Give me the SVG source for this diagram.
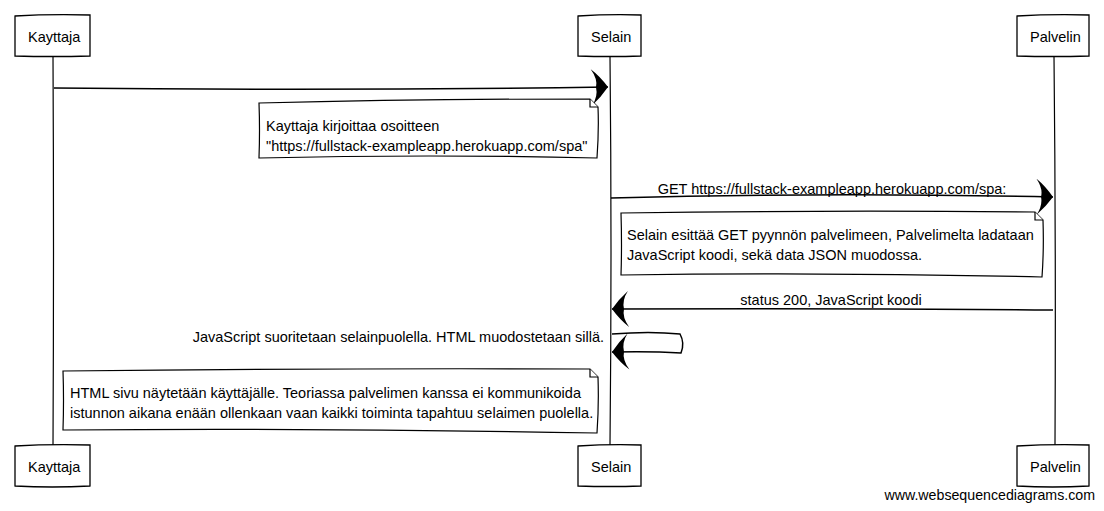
<svg xmlns="http://www.w3.org/2000/svg" width="1104" height="511" viewBox="0 0 1104 511">
<style>
text{font-family:"Liberation Sans",Arial,sans-serif;font-size:14.5px;fill:#000}
.box{fill:#fff;stroke:#000;stroke-width:1.3}
.life{fill:none;stroke:#000;stroke-width:1.2}
.msg{fill:none;stroke:#000;stroke-width:1.5}
.note{fill:#fff;stroke:#000;stroke-width:1.2}
.wm{font-size:14.2px}
</style>
<defs>
<marker id="ah" markerWidth="20" markerHeight="37" refX="18" refY="18" orient="auto" markerUnits="userSpaceOnUse" viewBox="0 0 20 37">
<path d="M18,18 Q10,7 1,0 Q8,10 6,18 Q8,27 2,36 Q11,28 18,18 Z" fill="#000"/>
</marker>
</defs>
<rect width="1104" height="511" fill="#fff"/>
<g id="lifelines">
<path class="life" d="M53,56 Q54,250 53,446"/>
<path class="life" d="M610,56 Q612,250 610,446"/>
<path class="life" d="M1054,56 Q1056,250 1055,446"/>
</g>
<g id="kayttaja-top"><path class="box" d="M15,16 Q50,14 90,15 L90,56 Q52,57 15,56 Z"/><text x="28" y="42">Kayttaja</text></g>
<g id="selain-top"><path class="box" d="M578,16 Q610,14 641,15 L641,56 Q610,57 578,56 Z"/><text x="591" y="42">Selain</text></g>
<g id="palvelin-top"><path class="box" d="M1017,16 Q1052,14 1089,15 L1089,56 Q1052,57 1017,56 Z"/><text x="1030" y="42">Palvelin</text></g>
<g id="kayttaja-bottom"><path class="box" d="M15,446 Q50,444 90,445 L90,486 Q52,488 15,486 Z"/><text x="28" y="472">Kayttaja</text></g>
<g id="selain-bottom"><path class="box" d="M578,446 Q610,444 641,445 L641,486 Q610,487 578,486 Z"/><text x="591" y="472">Selain</text></g>
<g id="palvelin-bottom"><path class="box" d="M1017,446 Q1052,444 1089,445 L1089,486 Q1052,488 1017,486 Z"/><text x="1030" y="472">Palvelin</text></g>
<g id="connectors">
<path class="msg" d="M54,88 Q330,91 608,87" marker-end="url(#ah)"/>
<path class="msg" d="M611,198 Q830,192 1053,197" marker-end="url(#ah)"/>
<path class="msg" d="M1053,310 Q830,308 612,309" marker-end="url(#ah)"/>
<path class="msg" d="M612,334 Q650,331 680,334 Q685,343 681,353 Q650,351 612,352" marker-end="url(#ah)"/>
</g>
<g id="labels">
<text x="832" y="194" text-anchor="middle">GET https://fullstack-exampleapp.herokuapp.com/spa:</text>
<text x="831" y="305" text-anchor="middle">status 200, JavaScript koodi</text>
<text x="604" y="342" text-anchor="end">JavaScript suoritetaan selainpuolella. HTML muodostetaan sillä.</text>
</g>
<g id="note1">
<path class="note" d="M259,103 Q420,99 590,99 L598,107 Q599,130 597,158 Q430,154 259,158 Q260,130 259,103 Z"/>
<path class="note" d="M590,99 L590,107 L598,107"/>
<text x="266" y="131">Kayttaja kirjoittaa osoitteen</text>
<text x="266" y="151">"https://fullstack-exampleapp.herokuapp.com/spa"</text>
</g>
<g id="note2">
<path class="note" d="M621,213 Q830,210 1035,212 L1043,220 Q1044,250 1042,277 Q830,272 621,275 Q622,245 621,213 Z"/>
<path class="note" d="M1035,212 L1035,220 L1043,220"/>
<text x="627" y="240">Selain esittää GET pyynnön palvelimeen, Palvelimelta ladataan</text>
<text x="627" y="260">JavaScript koodi, sekä data JSON muodossa.</text>
</g>
<g id="note3">
<path class="note" d="M63,371 Q330,368 590,369 L598,377 Q599,405 597,433 Q330,428 63,430 Q64,400 63,371 Z"/>
<path class="note" d="M590,369 L590,377 L598,377"/>
<text x="70" y="398">HTML sivu näytetään käyttäjälle. Teoriassa palvelimen kanssa ei kommunikoida</text>
<text x="70" y="418">istunnon aikana enään ollenkaan vaan kaikki toiminta tapahtuu selaimen puolella.</text>
</g>
<text class="wm" x="1095" y="500" text-anchor="end">www.websequencediagrams.com</text>
</svg>
